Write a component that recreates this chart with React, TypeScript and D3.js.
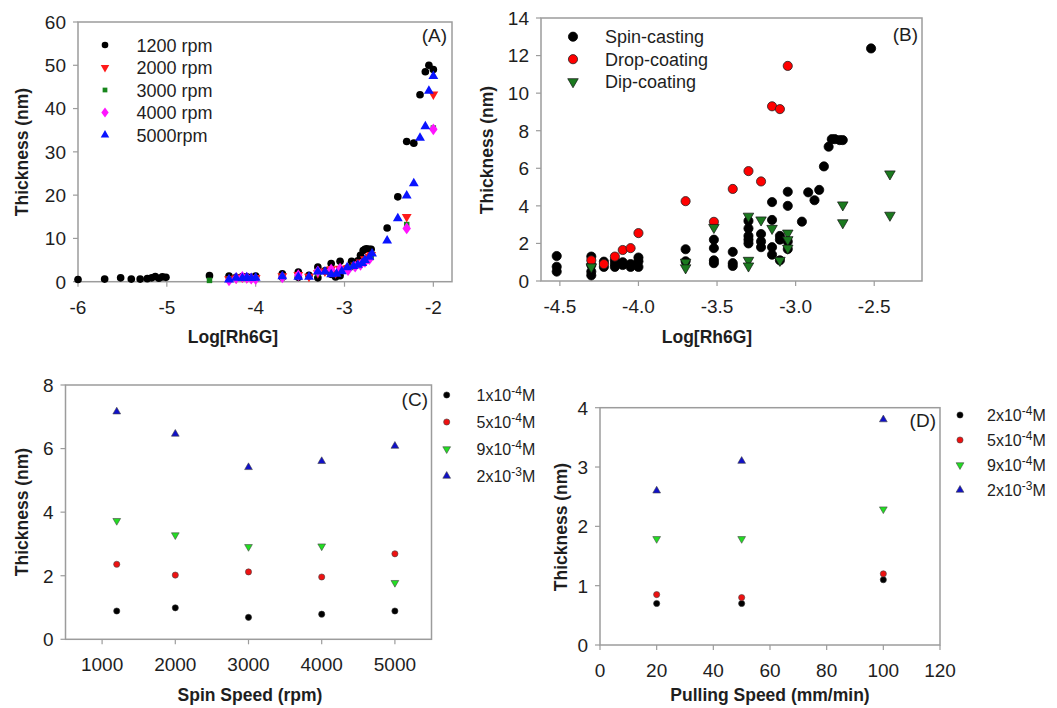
import React from "react";
import * as d3 from "d3";

// ---------- Panel A data (Thickness vs Log[Rh6G] at spin speeds) ----------
const aLegend = ["1200 rpm", "2000 rpm", "3000 rpm", "4000 rpm", "5000rpm"];
const a1200X = [-6, -5.7, -5.52, -5.4, -5.3, -5.22, -5.17, -5.13, -5.09, -5.05, -5.01, -4.52, -4.3, -4.22, -4.15, -4.1, -4.05, -4.0, -3.7, -3.7, -3.52, -3.52, -3.4, -3.3, -3.3, -3.3, -3.22, -3.15, -3.15, -3.1, -3.05, -3.05, -2.96, -2.92, -2.88, -2.85, -2.82, -2.79, -2.77, -2.75, -2.72, -2.7, -2.52, -2.4, -2.3, -2.22, -2.15, -2.09, -2.05, -2.0];
const a1200Y = [0.5, 0.6, 0.9, 0.6, 0.6, 0.7, 0.9, 1.2, 0.8, 1.1, 1.0, 1.4, 1.3, 1.0, 1.2, 1.1, 1.0, 1.3, 1.8, 1.0, 2.2, 1.0, 1.5, 3.4, 2.2, 0.9, 2.5, 4.2, 1.7, 1.1, 4.7, 1.4, 3.2, 4.7, 4.3, 4.8, 6.1, 7.2, 7.5, 7.6, 7.5, 7.5, 12.4, 19.6, 32.4, 32.0, 43.2, 48.5, 50.0, 49.0];
const a2000X = [-4.3, -4.22, -4.15, -4.1, -4.05, -4.0, -3.7, -3.52, -3.4, -3.3, -3.22, -3.15, -3.1, -3.05, -2.96, -2.88, -2.82, -2.77, -2.72, -2.7, -2.3, -2.0];
const a2000Y = [0.6, 0.8, 1.0, 0.9, 0.8, 0.9, 1.3, 1.6, 1.2, 2.0, 2.4, 2.9, 2.0, 3.0, 3.2, 3.8, 4.5, 5.2, 5.8, 6.2, 15.0, 43.3];
const a3000X = [-4.52, -4.3, -4.15, -4.0, -3.7, -3.52, -3.3, -3.15, -3.05, -2.92, -2.85, -2.79, -2.75, -2.7, -2.3, -2.0];
const a3000Y = [0.3, 0.5, 0.8, 0.7, 1.1, 1.2, 1.9, 2.5, 2.8, 3.3, 3.7, 4.3, 4.8, 5.6, 13.2, 35.5];
const a4000X = [-4.3, -4.22, -4.15, -4.1, -4.05, -4.0, -3.7, -3.52, -3.3, -3.15, -3.05, -2.96, -2.88, -2.82, -2.77, -2.72, -2.3, -2.0];
const a4000Y = [0.3, 0.8, 1.1, 0.9, 0.7, 0.6, 1.0, 1.5, 2.4, 2.8, 3.0, 2.7, 3.5, 3.9, 4.6, 5.2, 12.3, 35.2];
const a5000X = [-4.3, -4.22, -4.15, -4.1, -4.05, -4.0, -3.7, -3.52, -3.4, -3.3, -3.22, -3.15, -3.09, -3.03, -2.97, -2.9, -2.85, -2.8, -2.77, -2.72, -2.69, -2.52, -2.4, -2.3, -2.22, -2.15, -2.09, -2.05, -2.0];
const a5000Y = [0.5, 0.9, 0.8, 1.0, 0.8, 0.9, 1.2, 1.1, 1.1, 2.3, 2.3, 1.7, 1.8, 2.4, 3.3, 3.6, 3.9, 4.3, 5.0, 5.7, 6.5, 9.5, 14.6, 19.9, 22.7, 33.2, 35.9, 44.1, 47.5];
const aXTicks = [-6, -5, -4, -3, -2];
const aYTicks = [0, 10, 20, 30, 40, 50, 60];

// ---------- Panel B data (deposition methods) ----------
const bLegend = ["Spin-casting", "Drop-coating", "Dip-coating"];
const bSpinX = [-4.52, -4.52, -4.52, -4.3, -4.3, -4.3, -4.3, -4.22, -4.22, -4.15, -4.15, -4.15, -4.1, -4.1, -4.05, -4.05, -4.0, -4.0, -4.0, -3.7, -3.7, -3.52, -3.52, -3.52, -3.52, -3.4, -3.4, -3.4, -3.3, -3.3, -3.3, -3.3, -3.3, -3.22, -3.22, -3.22, -3.15, -3.15, -3.15, -3.15, -3.1, -3.1, -3.1, -3.05, -3.05, -3.05, -3.05, -2.96, -2.92, -2.88, -2.85, -2.82, -2.79, -2.77, -2.75, -2.72, -2.7, -2.52];
const bSpinY = [1.33, 0.76, 0.5, 1.3, 0.85, 0.5, 0.3, 1.03, 0.75, 1.1, 0.9, 0.75, 1.0, 0.85, 0.9, 0.75, 1.25, 1.05, 0.75, 1.69, 1.05, 2.2, 1.75, 1.1, 0.95, 1.55, 0.95, 0.8, 3.2, 2.8, 2.4, 2.2, 2.0, 2.5, 2.1, 1.8, 4.2, 3.25, 1.8, 1.4, 2.4, 2.2, 1.1, 4.75, 4.0, 2.1, 1.7, 3.16, 4.72, 4.3, 4.85, 6.1, 7.15, 7.55, 7.55, 7.5, 7.5, 12.38];
const bDropX = [-4.3, -4.22, -4.15, -4.1, -4.05, -4.0, -3.7, -3.52, -3.4, -3.3, -3.22, -3.15, -3.1, -3.05];
const bDropY = [1.1, 0.9, 1.3, 1.65, 1.75, 2.55, 4.25, 3.15, 4.9, 5.85, 5.3, 9.3, 9.15, 11.45];
const bDipX = [-4.3, -3.7, -3.7, -3.52, -3.3, -3.3, -3.3, -3.22, -3.15, -3.1, -3.05, -3.05, -3.05, -2.7, -2.7, -2.4, -2.4];
const bDipY = [0.75, 1.0, 0.7, 2.85, 3.45, 1.1, 0.8, 3.25, 2.8, 1.1, 2.55, 2.2, 1.75, 4.05, 3.1, 5.7, 3.5];
const bXTicks = [-4.5, -4.0, -3.5, -3.0, -2.5];
const bYTicks = [0, 2, 4, 6, 8, 10, 12, 14];

// ---------- Panel C data (spin speed) ----------
const cSpeeds = [1200, 2000, 3000, 4000, 5000];
const cConc = [["1x10", "-4", "M"], ["5x10", "-4", "M"], ["9x10", "-4", "M"], ["2x10", "-3", "M"]];
const c1e4 = [0.89, 0.99, 0.69, 0.79, 0.89];
const c5e4 = [2.36, 2.02, 2.12, 1.96, 2.69];
const c9e4 = [3.73, 3.28, 2.91, 2.93, 1.78];
const c2e3 = [7.16, 6.46, 5.41, 5.6, 6.08];
const cXTicks = [1000, 2000, 3000, 4000, 5000];
const cYTicks = [0, 2, 4, 6, 8];

// ---------- Panel D data (pulling speed) ----------
const dSpeeds = [20, 50, 100];
const dConc = [["2x10", "-4", "M"], ["5x10", "-4", "M"], ["9x10", "-4", "M"], ["2x10", "-3", "M"]];
const d2e4 = [0.7, 0.7, 1.1];
const d5e4 = [0.85, 0.8, 1.2];
const d9e4 = [1.79, 1.79, 2.29];
const d2e3 = [2.6, 3.1, 3.8];
const dXTicks = [0, 20, 40, 60, 80, 100, 120];
const dYTicks = [0, 1, 2, 3, 4];

const FONT = "'Liberation Sans', Arial, Helvetica, sans-serif";
const TXT = "#1e1e1e";
const FRAME = "#9c9c9c";

type MarkerStyle = { shape: string; size: number; fill: string; stroke?: string; sw?: number };

function Marker({ x, y, m }: { x: number; y: number; m: MarkerStyle }) {
  if (m.shape === "circle") {
    const r = Math.sqrt(m.size / Math.PI);
    return <circle cx={x} cy={y} r={r} fill={m.fill} stroke={m.stroke || "none"} strokeWidth={m.sw || 0} />;
  }
  const type =
    m.shape === "square" ? d3.symbolSquare : m.shape === "diamond" ? d3.symbolDiamond : d3.symbolTriangle;
  const d = d3.symbol().type(type).size(m.size)() as string;
  const rot = m.shape === "tridown" ? " rotate(180)" : m.shape === "diamond" ? " scale(1.25,1)" : "";
  return (
    <path d={d} transform={`translate(${x},${y})${rot}`} fill={m.fill} stroke={m.stroke || "none"} strokeWidth={m.sw || 0} />
  );
}

type Series = { xs: number[]; ys: number[]; m: MarkerStyle };

function Frame({
  x, y, xTicks, yTicks, fmtX, fmtY, fs,
}: {
  x: d3.ScaleLinear<number, number>; y: d3.ScaleLinear<number, number>;
  xTicks: number[]; yTicks: number[]; fmtX: (v: number) => string; fmtY: (v: number) => string; fs: number;
}) {
  const [x0, x1] = x.range();
  const [y0, y1] = y.range();
  return (
    <g>
      <rect x={x0} y={y1} width={x1 - x0} height={y0 - y1} fill="none" stroke={FRAME} strokeWidth={1.5} />
      {xTicks.map((t) => (
        <g key={"x" + t}>
          <line x1={x(t)} x2={x(t)} y1={y0} y2={y0 + 5} stroke={FRAME} strokeWidth={1.2} />
          <text x={x(t)} y={y0 + 32} textAnchor="middle" fontSize={fs} fill={TXT} fontFamily={FONT}>
            {fmtX(t)}
          </text>
        </g>
      ))}
      {yTicks.map((t) => (
        <g key={"y" + t}>
          <line x1={x0 - 5} x2={x0} y1={y(t)} y2={y(t)} stroke={FRAME} strokeWidth={1.2} />
          <text x={x0 - 12} y={y(t) + fs * 0.36} textAnchor="end" fontSize={fs} fill={TXT} fontFamily={FONT}>
            {fmtY(t)}
          </text>
        </g>
      ))}
    </g>
  );
}

function Points({ x, y, series }: { x: d3.ScaleLinear<number, number>; y: d3.ScaleLinear<number, number>; series: Series[] }) {
  return (
    <g>
      {series.map((s, si) => (
        <g key={si}>
          {s.xs.map((v, i) => (
            <Marker key={i} x={x(v)} y={y(s.ys[i])} m={s.m} />
          ))}
        </g>
      ))}
    </g>
  );
}

function YTitle({ cx, cy, text }: { cx: number; cy: number; text: string }) {
  return (
    <text transform={`translate(${cx},${cy}) rotate(-90)`} textAnchor="middle" dy="0.35em" fontSize={17.5} fontWeight="bold" fill={TXT} fontFamily={FONT}>
      {text}
    </text>
  );
}

function XTitle({ cx, y, text }: { cx: number; y: number; text: string }) {
  return (
    <text x={cx} y={y} textAnchor="middle" fontSize={17.5} fontWeight="bold" fill={TXT} fontFamily={FONT}>
      {text}
    </text>
  );
}

export default function App() {
  // Panel A
  const ax = d3.scaleLinear().domain([-6, -1.79]).range([78, 452]);
  const ay = d3.scaleLinear().domain([0, 60]).range([281.7, 22]);
  const aStyles: MarkerStyle[] = [
    { shape: "circle", size: 46, fill: "#000" },
    { shape: "tridown", size: 42, fill: "#ff1a1a" },
    { shape: "square", size: 30, fill: "#17861c" },
    { shape: "diamond", size: 40, fill: "#ff14ff" },
    { shape: "triangle", size: 42, fill: "#0a14ff" },
  ];
  const aSeries: Series[] = [
    { xs: a1200X, ys: a1200Y, m: aStyles[0] },
    { xs: a2000X, ys: a2000Y, m: aStyles[1] },
    { xs: a3000X, ys: a3000Y, m: aStyles[2] },
    { xs: a4000X, ys: a4000Y, m: aStyles[3] },
    { xs: a5000X, ys: a5000Y, m: aStyles[4] },
  ];

  // Panel B
  const bx = d3.scaleLinear().domain([-4.62, -2.196]).range([541, 922]);
  const by = d3.scaleLinear().domain([0, 14]).range([281, 18]);
  const bStyles: MarkerStyle[] = [
    { shape: "circle", size: 66, fill: "#000", stroke: "#000", sw: 0.8 },
    { shape: "circle", size: 66, fill: "#ff0000", stroke: "#222", sw: 0.8 },
    { shape: "tridown", size: 48, fill: "#1b7a1f", stroke: "#111", sw: 0.7 },
  ];
  const bSeries: Series[] = [
    { xs: bSpinX, ys: bSpinY, m: bStyles[0] },
    { xs: bDropX, ys: bDropY, m: bStyles[1] },
    { xs: bDipX, ys: bDipY, m: bStyles[2] },
  ];

  // Panel C & D styles
  const cdStyles: MarkerStyle[] = [
    { shape: "circle", size: 30, fill: "#000", stroke: "#333", sw: 0.6 },
    { shape: "circle", size: 30, fill: "#ee1111", stroke: "#444", sw: 0.6 },
    { shape: "tridown", size: 26, fill: "#22dd22", stroke: "#444", sw: 0.6 },
    { shape: "triangle", size: 26, fill: "#1010c8", stroke: "#444", sw: 0.6 },
  ];
  const cx = d3.scaleLinear().domain([500, 5500]).range([65.5, 431.5]);
  const cy = d3.scaleLinear().domain([0, 8]).range([639.3, 385]);
  const cSeries: Series[] = [c1e4, c5e4, c9e4, c2e3].map((ys, i) => ({ xs: cSpeeds, ys, m: cdStyles[i] }));

  const dx = d3.scaleLinear().domain([0, 120]).range([600, 940]);
  const dy = d3.scaleLinear().domain([0, 4]).range([645, 407.7]);
  const dSeries: Series[] = [d2e4, d5e4, d9e4, d2e3].map((ys, i) => ({ xs: dSpeeds, ys, m: cdStyles[i] }));

  const str = (v: number) => String(v);

  return (
    <svg width={1057} height={708} style={{ position: "absolute", left: 0, top: 0, background: "#fff" }}>
      {/* Panel A */}
      <Frame x={ax} y={ay} xTicks={aXTicks} yTicks={aYTicks} fmtX={str} fmtY={str} fs={19} />
      <Points x={ax} y={ay} series={aSeries} />
      <text x={447} y={42} textAnchor="end" fontSize={19} fill={TXT} fontFamily={FONT}>(A)</text>
      {aLegend.map((l, i) => (
        <g key={l}>
          <Marker x={105} y={45 + i * 22.5} m={{ ...aStyles[i], size: aStyles[i].size * 0.75 }} />
          <text x={136.5} y={45 + i * 22.5 + 6.5} fontSize={18} fill={TXT} fontFamily={FONT}>{l}</text>
        </g>
      ))}
      <YTitle cx={22} cy={152} text="Thickness (nm)" />
      <XTitle cx={233} y={343} text="Log[Rh6G]" />

      {/* Panel B */}
      <Frame x={bx} y={by} xTicks={bXTicks} yTicks={bYTicks} fmtX={(v) => v.toFixed(1)} fmtY={str} fs={19} />
      <Points x={bx} y={by} series={bSeries} />
      <text x={918} y={41} textAnchor="end" fontSize={19} fill={TXT} fontFamily={FONT}>(B)</text>
      {bLegend.map((l, i) => (
        <g key={l}>
          <Marker x={573} y={36.7 + i * 22.5} m={bStyles[i]} />
          <text x={605} y={36.7 + i * 22.5 + 6.5} fontSize={18} fill={TXT} fontFamily={FONT}>{l}</text>
        </g>
      ))}
      <YTitle cx={487} cy={150} text="Thickness (nm)" />
      <XTitle cx={707} y={343} text="Log[Rh6G]" />

      {/* Panel C */}
      <Frame x={cx} y={cy} xTicks={cXTicks} yTicks={cYTicks} fmtX={str} fmtY={str} fs={19} />
      <Points x={cx} y={cy} series={cSeries} />
      <text x={428} y={406} textAnchor="end" fontSize={19} fill={TXT} fontFamily={FONT}>(C)</text>
      {cConc.map((c, i) => (
        <g key={c.join("")}>
          <Marker x={446.7} y={395 + i * 27} m={cdStyles[i]} />
          <text x={476.5} y={395 + i * 27 + 6} fontSize={16} fill={TXT} fontFamily={FONT}>
            {c[0]}
            <tspan dy={-6} fontSize={12}>{c[1]}</tspan>
            <tspan dy={6}>{c[2]}</tspan>
          </text>
        </g>
      ))}
      <YTitle cx={22} cy={512} text="Thickness (nm)" />
      <XTitle cx={250} y={701} text="Spin Speed (rpm)" />

      {/* Panel D */}
      <Frame x={dx} y={dy} xTicks={dXTicks} yTicks={dYTicks} fmtX={str} fmtY={str} fs={19} />
      <Points x={dx} y={dy} series={dSeries} />
      <text x={936} y={427} textAnchor="end" fontSize={19} fill={TXT} fontFamily={FONT}>(D)</text>
      {dConc.map((c, i) => (
        <g key={c.join("") + i}>
          <Marker x={960} y={415 + i * 25} m={cdStyles[i]} />
          <text x={987} y={415 + i * 25 + 6} fontSize={16} fill={TXT} fontFamily={FONT}>
            {c[0]}
            <tspan dy={-6} fontSize={12}>{c[1]}</tspan>
            <tspan dy={6}>{c[2]}</tspan>
          </text>
        </g>
      ))}
      <YTitle cx={561} cy={527} text="Thickness (nm)" />
      <XTitle cx={770} y={701} text="Pulling Speed (mm/min)" />
    </svg>
  );
}
